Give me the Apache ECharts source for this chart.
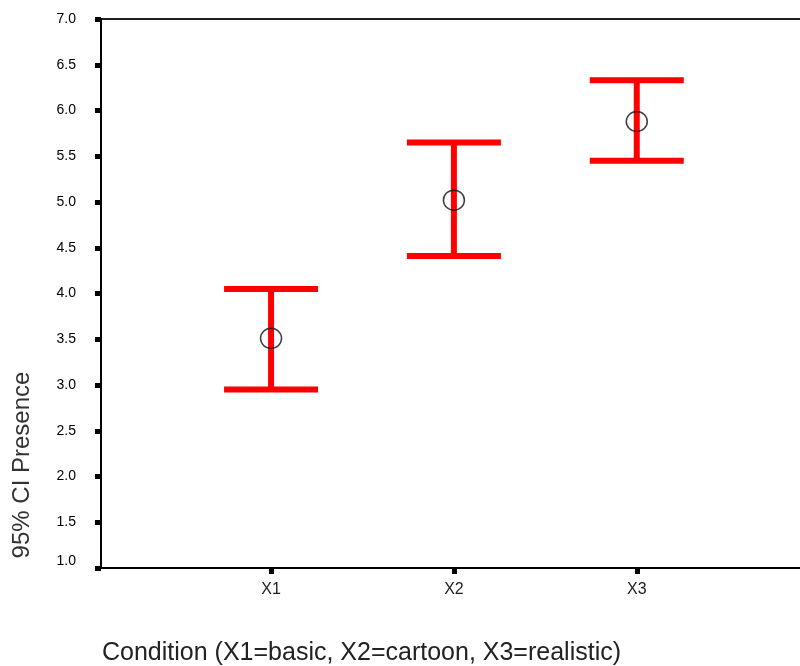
<!DOCTYPE html>
<html>
<head>
<meta charset="utf-8">
<script src="https://cdn.jsdelivr.net/npm/echarts@6/dist/echarts.min.js"></script>
<style>
  html, body { margin: 0; padding: 0; background: #fff; }
  #chart { width: 800px; height: 666px; }
</style>
</head>
<body>
<div id="chart"></div>
<script>
// data
var categories = ['X1', 'X2', 'X3'];
var xPos = [1, 2, 3];
var means = [3.51, 5.02, 5.88];
var lower = [2.95, 4.41, 5.45];
var upper = [4.05, 5.65, 6.33];

var barData = xPos.map(function (x, i) { return [x, lower[i], upper[i]]; });
var meanData = xPos.map(function (x, i) { return [x, means[i]]; });

var red = '#ff0000';

function renderBar(params, api) {
  var x = api.value(0);
  var lo = api.coord([x, api.value(1)]);
  var hi = api.coord([x, api.value(2)]);
  var half = 47;
  var st = { stroke: red, lineWidth: 6 };
  return {
    type: 'group',
    children: [
      { type: 'line', shape: { x1: lo[0], y1: lo[1], x2: hi[0], y2: hi[1] }, style: st },
      { type: 'line', shape: { x1: hi[0] - half, y1: hi[1], x2: hi[0] + half, y2: hi[1] }, style: st },
      { type: 'line', shape: { x1: lo[0] - half, y1: lo[1], x2: lo[0] + half, y2: lo[1] }, style: st }
    ]
  };
}

var chart = echarts.init(document.getElementById('chart'));
chart.setOption({
  animation: false,
  backgroundColor: '#fff',
  grid: {
    left: 101, top: 19, right: -5, bottom: 98,
    outerBoundsMode: 'none',
    containLabel: false,
    show: true, borderColor: '#222', borderWidth: 2
  },
  xAxis: {
    type: 'value',
    min: 0.07,
    max: 3.92,
    splitLine: { show: false },
    axisLine: { lineStyle: { color: '#000', width: 2 } },
    axisTick: { customValues: xPos, length: 6, lineStyle: { color: '#000', width: 5 } },
    axisLabel: {
      customValues: xPos,
      formatter: function (v) { return categories[xPos.indexOf(v)]; },
      fontFamily: 'Liberation Sans, Arial, sans-serif',
      fontSize: 16,
      color: '#222',
      margin: 14
    }
  },
  yAxis: {
    type: 'value',
    min: 1,
    max: 7,
    interval: 0.5,
    splitLine: { show: false },
    axisLine: { show: true, lineStyle: { color: '#000', width: 2 } },
    axisTick: { show: true, length: 6, lineStyle: { color: '#000', width: 5 } },
    axisLabel: {
      formatter: function (v) { return v.toFixed(1); },
      fontFamily: 'Liberation Sans Narrow, Arial Narrow, sans-serif',
      fontSize: 14,
      color: '#000',
      margin: 25,
      verticalAlignMinLabel: 'bottom'
    }
  },
  graphic: [
    {
      type: 'text', x: 22, y: 465, rotation: Math.PI / 2,
      style: {
        text: '95% CI Presence', align: 'center', verticalAlign: 'middle',
        fontFamily: 'Liberation Sans, Arial, sans-serif', fontSize: 24, fill: '#333'
      }
    },
    {
      type: 'text', x: 102, y: 653,
      style: {
        text: 'Condition (X1=basic, X2=cartoon, X3=realistic)', align: 'left', verticalAlign: 'middle',
        fontFamily: 'Liberation Sans, Arial, sans-serif', fontSize: 25, fill: '#222'
      }
    }
  ],
  series: [
    {
      type: 'custom',
      renderItem: renderBar,
      data: barData,
      encode: { x: 0, y: [1, 2] },
      silent: true,
      z: 2
    },
    {
      type: 'scatter',
      data: meanData,
      symbol: 'circle',
      symbolSize: [21, 20],
      itemStyle: { color: 'rgba(0,0,0,0)', borderColor: '#111', borderWidth: 1.5 },
      emphasis: { disabled: true },
      silent: true,
      z: 3
    }
  ]
});
</script>
</body>
</html>
